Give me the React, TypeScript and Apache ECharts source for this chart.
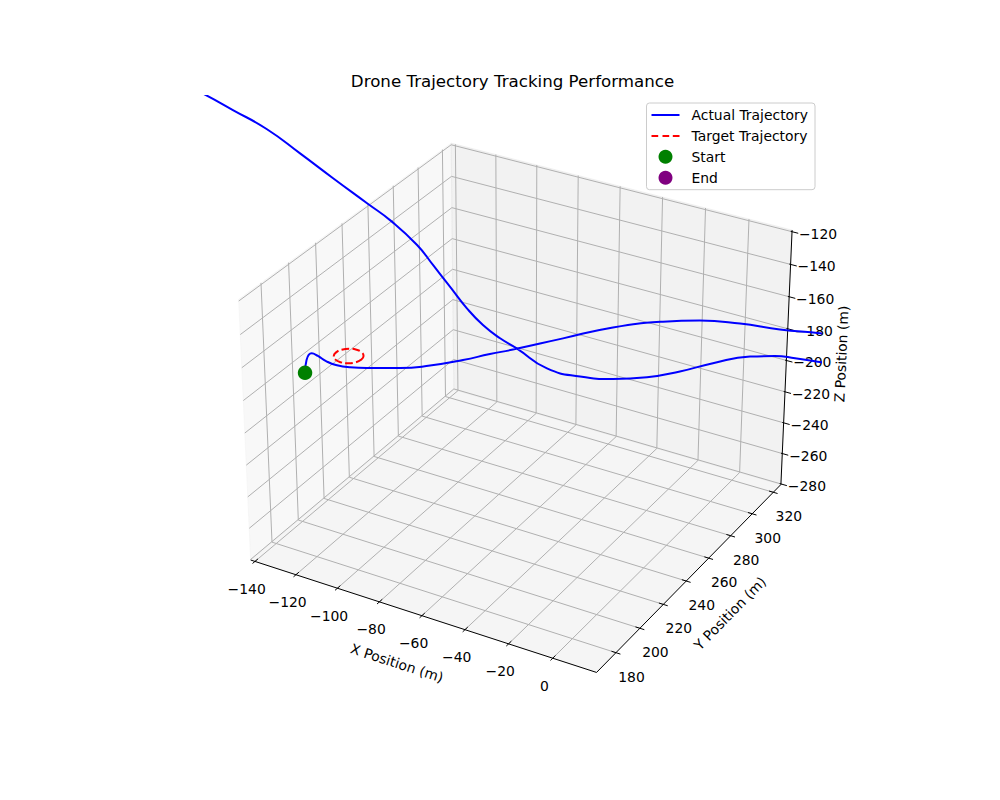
import React, { useEffect, useRef } from "react";
import * as echarts from "echarts";

// ---------------- data ----------------
const xLimits = [-142.1, 19.6];
const yLimits = [164.1, 327.3];
const zLimits = [-280.4, -119.0];
const xTicks = [-140, -120, -100, -80, -60, -40, -20, 0];
const yTicks = [180, 200, 220, 240, 260, 280, 300, 320];
const zTicks = [-280, -260, -240, -220, -200, -180, -160, -140, -120];

const actualX = [
  -162.9, -161.9, -159.2, -156.1, -152.1, -147.2, -140.2, -130.3, -115.5, -100.9,
  -85.1, -72.3, -61.5, -38.4, -15.9, 6.2, 22.3, 39.6, 56.6, 73.4, 90.0,
  104.5, 110.9, 105.1, 90.7, 74.0, 63.5, 55.0, 44.4, 28.5, 14.2,
  -0.3, -15.5, -30.5, -45.7, -59.6, -67.5, -75.5, -83.0, -90.9, -98.8,
  -106.2, -118.0, -129.7, -145.8, -161.5, -177.3, -193.8, -209.9, -224.7,
];
const actualY = [
  240, 240, 240, 240, 240, 240, 240, 240, 240, 240,
  240, 240, 240, 240, 240, 240, 240, 240, 240, 240, 240,
  240, 240, 240, 240, 240, 240, 240, 240, 240, 240,
  240, 240, 240, 240, 240, 240, 240, 240, 240, 240,
  240, 240, 240, 240, 240, 240, 240, 240, 240,
];
const actualZ = [
  -220.2, -211.6, -206.3, -206.8, -208.6, -209.3, -208.1, -204.8, -199.3, -192.2,
  -182.8, -174.3, -167.5, -152.1, -137.2, -125.7, -119.1, -114.6, -111.8, -107.8, -104.4,
  -104.8, -109.3, -117.2, -122.1, -124.3, -126.0, -127.9, -132.2, -142.1, -152.4,
  -161.4, -168.2, -172.4, -173.2, -166.2, -162.8, -157.6, -150.1, -139.7, -129.3,
  -119.8, -109.7, -102.6, -92.9, -83.1, -73.7, -67.4, -61.6, -57.7,
];

const targetX = [-134.5, -135.3, -137.6, -140.7, -143.8, -146.1, -146.9, -146.1, -143.8, -140.7, -137.6, -135.3, -134.5];
const targetY = [240.0, 243.1, 245.4, 246.2, 245.4, 243.1, 240.0, 236.9, 234.6, 233.8, 234.6, 236.9, 240.0];
const targetZ = [-201.1, -201.1, -201.1, -201.1, -201.1, -201.1, -201.1, -201.1, -201.1, -201.1, -201.1, -201.1, -201.1];

const startPos = [-162.9, 240, -220.2];
const endPos = [-224.7, 240, -57.7];

// ---------------- view (matplotlib-style 3D camera) ----------------
const ELEV = 30;
const AZIM = -60;
const DIST = 10;
const BOX_ASPECT = [4, 4, 3];
const VIEW_SCALE = 3468;
const VIEW_CX = 520.5;
const VIEW_CY = 395.6;
const AX_LEFT = 204.5;
const AX_TOP = 96;
const AX_SIZE = 616;

const FONT = "DejaVu Sans";

function cross(a: number[], b: number[]) {
  return [a[1] * b[2] - a[2] * b[1], a[2] * b[0] - a[0] * b[2], a[0] * b[1] - a[1] * b[0]];
}
function dot(a: number[], b: number[]) {
  return a[0] * b[0] + a[1] * b[1] + a[2] * b[2];
}

function buildProjector() {
  const n = Math.hypot(BOX_ASPECT[0], BOX_ASPECT[1], BOX_ASPECT[2]);
  const A = BOX_ASPECT.map((v) => (v * 1.8294640721620434) / n);
  const R = A.map((v) => v / 2);
  const el = (ELEV * Math.PI) / 180;
  const az = (AZIM * Math.PI) / 180;
  const ps = [Math.cos(el) * Math.cos(az), Math.cos(el) * Math.sin(az), Math.sin(el)];
  const eye = R.map((r, i) => r + DIST * ps[i]);
  const w = ps;
  let u = cross([0, 0, 1], w);
  const un = Math.hypot(u[0], u[1], u[2]);
  u = u.map((c) => c / un);
  const v = cross(w, u);
  const lims = [xLimits, yLimits, zLimits];
  return (p: number[]) => {
    const d = p.map((val, i) => ((val - lims[i][0]) / (lims[i][1] - lims[i][0])) * A[i] - eye[i]);
    const xv = dot(u, d);
    const yv = dot(v, d);
    const zv = dot(w, d);
    return [VIEW_CX + (VIEW_SCALE * xv) / -zv, VIEW_CY - (VIEW_SCALE * yv) / -zv];
  };
}

const project = buildProjector();

const fmt = (v: number) => (v < 0 ? "\u2212" + String(-v) : String(v));

function frameRender(params: any, api: any) {
  const P = (p: number[]) => api.coord(project(p));
  const [x0, x1] = xLimits;
  const [y0, y1] = yLimits;
  const [z0, z1] = zLimits;
  const children: any[] = [];

  const pane = (pts: number[][], fill: string) =>
    children.push({
      type: "polygon",
      shape: { points: pts.map(P) },
      style: { fill, stroke: fill, lineWidth: 1 },
    });
  pane([[x0, y0, z0], [x0, y1, z0], [x0, y1, z1], [x0, y0, z1]], "rgba(242,242,242,0.5)");
  pane([[x0, y1, z0], [x1, y1, z0], [x1, y1, z1], [x0, y1, z1]], "rgba(230,230,230,0.5)");
  pane([[x0, y0, z0], [x1, y0, z0], [x1, y1, z0], [x0, y1, z0]], "rgba(236,236,236,0.5)");

  const poly = (pts: number[][], stroke: string, lw: number) =>
    children.push({
      type: "polyline",
      shape: { points: pts.map(P) },
      style: { stroke, lineWidth: lw, fill: "none" },
    });

  xTicks.forEach((t) => poly([[t, y0, z0], [t, y1, z0], [t, y1, z1]], "#b0b0b0", 1));
  yTicks.forEach((t) => poly([[x1, t, z0], [x0, t, z0], [x0, t, z1]], "#b0b0b0", 1));
  zTicks.forEach((t) => poly([[x0, y0, t], [x0, y1, t], [x1, y1, t]], "#b0b0b0", 1));

  poly([[x0, y0, z0], [x1, y0, z0]], "#000", 1);
  poly([[x1, y0, z0], [x1, y1, z0]], "#000", 1);
  poly([[x1, y1, z0], [x1, y1, z1]], "#000", 1);

  xTicks.forEach((t) => poly([[t, y0 + 2.2, z0], [t, y0 - 1.8, z0]], "#000", 1));
  yTicks.forEach((t) => poly([[x1 - 2.0, t, z0], [x1 + 2.0, t, z0]], "#000", 1));
  zTicks.forEach((t) => poly([[x1 - 0.6, y1, t], [x1 + 2.8, y1, t]], "#000", 1));

  const text = (s: string, x: number, y: number, rot = 0) =>
    children.push({
      type: "text",
      x,
      y,
      rotation: rot,
      style: {
        text: s,
        x: 0,
        y: 0,
        align: "center",
        verticalAlign: "middle",
        fill: "#000",
        fontSize: 13.9,
        fontFamily: FONT,
      },
    });

  xTicks.forEach((t) => {
    const [px, py] = P([t, y0, z0]);
    text(fmt(t), px - 8.3, py + 27.5);
  });
  yTicks.forEach((t) => {
    const [px, py] = P([x1, t, z0]);
    text(fmt(t), px + 15.5, py + 24);
  });
  zTicks.forEach((t) => {
    const [px, py] = P([x1, y1, t]);
    text(fmt(t), px + 26, py + 2);
  });

  const angle = (a: number[], b: number[]) => {
    const pa = P(a);
    const pb = P(b);
    return Math.atan2(-(pb[1] - pa[1]), pb[0] - pa[0]);
  };
  const xm = P([(x0 + x1) / 2, y0, z0]);
  text("X Position (m)", xm[0] - 22.3, xm[1] + 48.2, angle([x0, y0, z0], [x1, y0, z0]));
  const ym = P([x1, (y0 + y1) / 2, z0]);
  text("Y Position (m)", ym[0] + 37.3, ym[1] + 38.9, angle([x1, y0, z0], [x1, y1, z0]));
  const zm = P([x1, y1, (z0 + z1) / 2]);
  text("Z Position (m)", zm[0] + 55.1, zm[1] - 6, angle([x1, y1, z0], [x1, y1, z1]));

  return { type: "group", children };
}

export default function App() {
  const ref = useRef<HTMLDivElement>(null);

  useEffect(() => {
    document.body.style.margin = "0";
    if (!ref.current) return;
    const chart = echarts.init(ref.current, null, { renderer: "svg" });

    const actualData = actualX.map((x, i) => project([x, actualY[i], actualZ[i]]));
    const targetData = targetX.map((x, i) => project([x, targetY[i], targetZ[i]]));

    chart.setOption({
      animation: false,
      backgroundColor: "#ffffff",
      textStyle: { fontFamily: FONT },
      title: {
        text: "Drone Trajectory Tracking Performance",
        left: 512.5,
        top: 73,
        padding: 0,
        textAlign: "center",
        textStyle: { fontFamily: FONT, fontSize: 16.67, fontWeight: "normal", color: "#000" },
      },
      legend: {
        orient: "vertical",
        left: 646.5,
        top: 103,
        padding: [5, 7, 5, 5],
        itemWidth: 28,
        itemHeight: 14,
        itemGap: 6.9,
        backgroundColor: "rgba(255,255,255,0.8)",
        borderColor: "#cccccc",
        borderWidth: 1,
        borderRadius: 3,
        selectedMode: false,
        itemStyle: { borderWidth: 0, opacity: 1 },
        textStyle: { fontFamily: FONT, fontSize: 13.9, color: "#000", lineHeight: 14, padding: [0, 0, 0, 7] },
        data: [
          { name: "Actual Trajectory", icon: "path://M0,0H28V2H0Z" },
          { name: "Target Trajectory", icon: "path://M0,0H6.7V2H0Z M11,0H17.7V2H11Z M21.3,0H28V2H21.3Z" },
          { name: "Start", icon: "circle" },
          { name: "End", icon: "circle" },
        ],
      },
      grid: { left: AX_LEFT, top: AX_TOP, width: AX_SIZE, height: AX_SIZE, containLabel: false },
      xAxis: { type: "value", min: AX_LEFT, max: AX_LEFT + AX_SIZE, show: false },
      yAxis: { type: "value", min: AX_TOP, max: AX_TOP + AX_SIZE, inverse: true, show: false },
      series: [
        {
          name: "frame",
          type: "custom",
          silent: true,
          z: 1,
          renderItem: frameRender,
          data: [[0, 0]],
        },
        {
          name: "Actual Trajectory",
          type: "line",
          z: 3,
          data: actualData,
          showSymbol: false,
          smooth: 0.5,
          clip: true,
          color: "#0000ff",
          itemStyle: { color: "#0000ff" },
          lineStyle: { color: "#0000ff", width: 2 },
        },
        {
          name: "Target Trajectory",
          type: "line",
          z: 4,
          data: targetData,
          showSymbol: false,
          smooth: 0.5,
          clip: true,
          color: "#ff0000",
          itemStyle: { color: "#ff0000" },
          lineStyle: { color: "#ff0000", width: 2, type: [7.7, 3.3] },
        },
        {
          name: "Start",
          type: "scatter",
          z: 5,
          clip: true,
          symbolSize: 14.5,
          color: "#008000",
          itemStyle: { color: "#008000", opacity: 1 },
          data: [project(startPos)],
        },
        {
          name: "End",
          type: "scatter",
          z: 5,
          clip: true,
          symbolSize: 14.5,
          color: "#800080",
          itemStyle: { color: "#800080", opacity: 1 },
          data: [project(endPos)],
        },
      ],
    });

    return () => chart.dispose();
  }, []);

  return <div ref={ref} style={{ width: 1000, height: 800 }} />;
}
